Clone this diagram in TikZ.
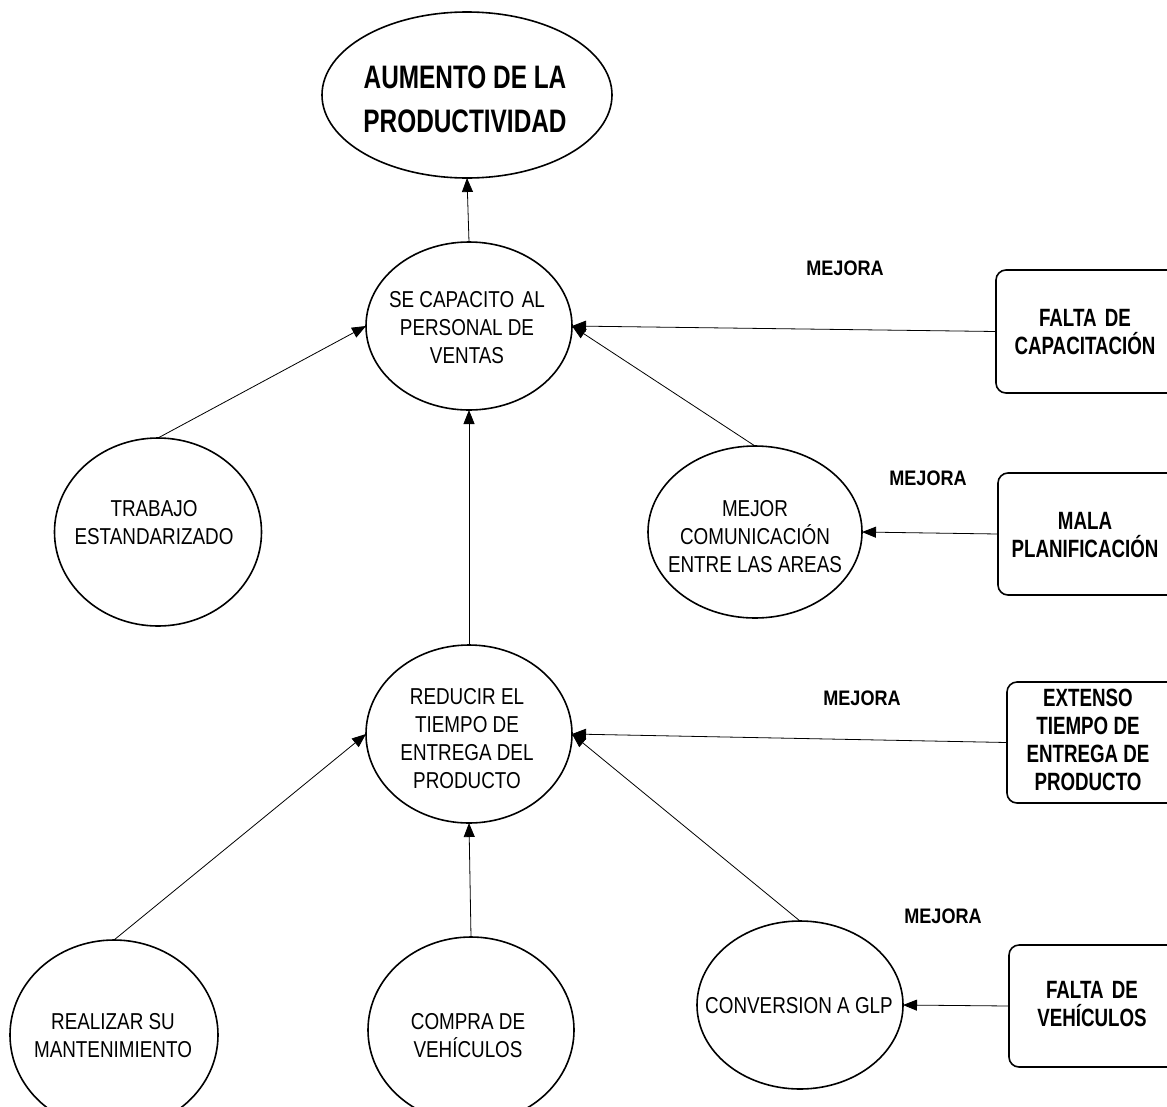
\documentclass[tikz,border=0pt]{standalone}
\usepackage{fontspec}
\setmainfont{Liberation Sans}[FakeStretch=0.82]
\newfontfamily\heavy{Liberation Sans}[FakeStretch=0.75]
\newfontfamily\heavywide{Liberation Sans}[FakeStretch=0.86]
\usetikzlibrary{shapes.geometric,arrows.meta}
\begin{document}
\begin{tikzpicture}[x=1pt,y=-1pt,
  oval/.style={draw,ellipse,line width=1.6pt,inner sep=0pt,outer sep=0pt},
  cause/.style={draw,rounded corners=10pt,line width=1.6pt,inner sep=0pt,outer sep=0pt},
  txt/.style={align=center,inner sep=0pt,font=\fontsize{23}{28}\selectfont},
  btxt/.style={align=center,inner sep=0pt,font=\heavy\bfseries\fontsize{25}{28}\selectfont},
  ttxt/.style={align=center,inner sep=0pt,font=\heavy\bfseries\fontsize{32.5}{44}\selectfont},
  mtxt/.style={inner sep=0pt,font=\heavywide\bfseries\fontsize{21}{26}\selectfont},
  link/.style={line width=0.8pt,-{Triangle[length=14pt,width=11pt]}}]
\useasboundingbox (0,0) rectangle (1167,1106);
\clip (0,0) rectangle (1167,1106);

% goal
\node[oval,minimum width=290pt,minimum height=166pt] (aum) at (467,95) {};
\node[ttxt] (aumT) at (465,99) {AUMENTO DE LA\\PRODUCTIVIDAD};

% actions
\node[oval,minimum width=206pt,minimum height=168pt] (cap) at (469,326) {};
\node[txt] (capT) at (467,328) {SE CAPACITO\,\,AL\\PERSONAL DE\\VENTAS};

\node[oval,minimum width=207pt,minimum height=188pt] (trab) at (158,532) {};
\node[txt] (trabT) at (154,523) {TRABAJO\\ESTANDARIZADO};

\node[oval,minimum width=214pt,minimum height=172pt] (com) at (755,532) {};
\node[txt] (comT) at (755,537) {MEJOR\\COMUNICACIÓN\\ENTRE LAS AREAS};

\node[oval,minimum width=206pt,minimum height=178pt] (red) at (469,734) {};
\node[txt] (redT) at (467,739) {REDUCIR EL\\TIEMPO DE\\ENTREGA DEL\\PRODUCTO};

\node[oval,minimum width=208pt,minimum height=190pt] (real) at (114,1035) {};
\node[txt] (realT) at (113,1036) {REALIZAR SU\\MANTENIMIENTO};

\node[oval,minimum width=206pt,minimum height=186pt] (comp) at (471,1030) {};
\node[txt] (compT) at (468,1036) {COMPRA DE\\VEHÍCULOS};

\node[oval,minimum width=206pt,minimum height=168pt] (conv) at (800,1005) {};
\node[txt] (convT) at (799,1006) {CONVERSION A GLP};

% problems
\node[cause,minimum width=190pt,minimum height=123pt] (p1) at (1091,331.5) {};
\node[btxt] (p1T) at (1085,332) {FALTA\,\,DE\\CAPACITACIÓN};

\node[cause,minimum width=186pt,minimum height=122pt] (p2) at (1091,534) {};
\node[btxt] (p2T) at (1085,535) {MALA\\PLANIFICACIÓN};

\node[cause,minimum width=170pt,minimum height=121pt] (p3) at (1092,742.5) {};
\node[btxt] (p3T) at (1088,740) {EXTENSO\\TIEMPO DE\\ENTREGA DE\\PRODUCTO};

\node[cause,minimum width=170pt,minimum height=122pt] (p4) at (1094,1006) {};
\node[btxt] (p4T) at (1092,1004) {FALTA\,\,DE\\VEHÍCULOS};

% labels
\node[mtxt] (m1) at (845,268) {MEJORA};
\node[mtxt] (m2) at (928,478) {MEJORA};
\node[mtxt] (m3) at (862,698) {MEJORA};
\node[mtxt] (m4) at (943,916) {MEJORA};

% connectors
\draw[link] (cap.north) -- (aum.south);
\draw[link] (trab.north) -- (cap.west);
\draw[link] (com.north) -- (cap.east);
\draw[link] (p1.west) -- (cap.east);
\draw[link] (red.north) -- (cap.south);
\draw[link] (p2.west) -- (com.east);
\draw[link] (p3.west) -- (red.east);
\draw[link] (real.north) -- (red.west);
\draw[link] (comp.north) -- (red.south);
\draw[link] (conv.north) -- (red.east);
\draw[link] (p4.west) -- (conv.east);
\end{tikzpicture}
\end{document}
